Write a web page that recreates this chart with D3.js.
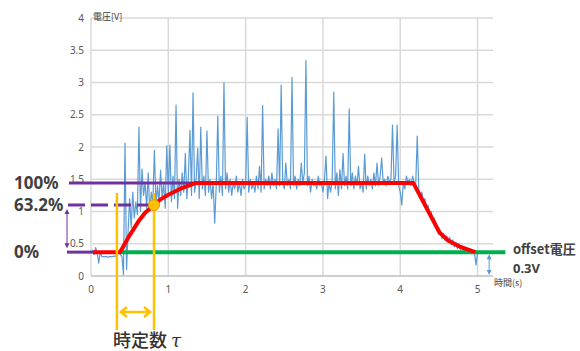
<!DOCTYPE html>
<html>
<head>
<meta charset="utf-8">
<script src="https://cdn.jsdelivr.net/npm/d3@7"></script>
<style>
  body { margin: 0; background: #fff; }
  svg { display: block; }
</style>
</head>
<body>
<svg id="chart" width="580" height="351"></svg>
<script>
// measured voltage, one sample every 0.02 s from t = 0
const sampleStep = 0.02;
const voltage = [
  0.36, 0.40, 0.33, 0.44, 0.36,  0.20, 0.38, 0.30, 0.30, 0.30,
  0.30, 0.29, 0.30, 0.30, 0.30,  0.31, 0.30, 0.38, 0.36, 0.33,
  0.30, 0.02, 2.06, 0.10, 0.70,  1.20, 0.75, 1.30, 0.90, 1.15,
  0.95, 2.31, 1.00, 1.66, 1.25,  1.45, 1.05, 1.60, 1.00, 1.30,
  1.15, 1.95, 1.10, 1.40, 1.15,  1.64, 1.20, 1.45, 1.05, 2.02,
  1.30, 2.03, 1.15, 1.55, 1.20,  2.65, 1.05, 1.50, 1.25, 1.60,
  1.30, 1.90, 1.20, 1.55, 2.26,  1.25, 2.84, 1.30, 1.50, 1.98,
  1.20, 2.31, 1.35, 1.55, 1.25,  2.25, 1.30, 1.50, 1.20, 1.45,
  0.82, 1.40, 2.48, 1.30, 1.55,  1.25, 3.00, 1.35, 1.60, 1.30,
  1.50, 1.25, 1.45, 1.35, 1.55,  1.30, 1.45, 1.25, 1.50, 1.35,
  1.40, 2.46, 1.30, 1.50, 1.35,  1.45, 1.30, 1.55, 1.35, 1.70,
  1.30, 2.64, 1.35, 1.50, 1.40,  1.55, 1.35, 1.60, 1.40, 1.50,
  1.35, 2.28, 1.40, 2.96, 1.45,  1.35, 1.75, 1.40, 1.50, 1.35,
  3.08, 1.40, 1.55, 1.35, 1.50,  1.40, 1.75, 1.45, 1.60, 3.34,
  1.40, 1.55, 1.30, 1.50, 1.40,  1.45, 1.35, 1.55, 1.40, 1.45,
  1.30, 1.50, 1.86, 1.20, 1.45,  1.30, 1.50, 2.85, 1.35, 1.60,
  1.25, 1.65, 1.35, 1.90, 1.40,  1.55, 1.35, 2.59, 1.40, 1.60,
  1.35, 1.55, 1.40, 1.70, 1.35,  1.45, 1.30, 1.89, 1.35, 1.55,
  1.40, 1.50, 1.35, 1.60, 1.40,  1.75, 1.40, 1.55, 1.83, 1.45,
  1.50, 1.40, 1.55, 1.45, 1.50,  2.34, 1.45, 1.55, 2.34, 1.40,
  1.30, 1.10, 1.45, 1.35, 1.55,  1.45, 1.50, 1.40, 1.55, 1.45,
  1.40, 2.17, 1.35, 1.25, 1.30,  1.15, 1.20, 1.05, 1.10, 0.95,
  1.00, 0.85, 0.90, 0.78, 0.72,  0.65, 0.70, 0.58, 0.66, 0.55,
  0.62, 0.52, 0.60, 0.48, 0.56,  0.45, 0.52, 0.42, 0.50, 0.40,
  0.46, 0.38, 0.44, 0.37, 0.40,  0.36, 0.38, 0.35, 0.37, 0.17,
  0.36
];

// hand-drawn fit (red) through the response: [time, volt]
const fitPoints = [
  [0.03, 0.37], [0.375, 0.37], [0.50, 0.63], [0.61, 0.84], [0.70, 0.98],
  [0.815, 1.10], [0.89, 1.18], [1.00, 1.26], [1.15, 1.35], [1.35, 1.44],
  [4.17, 1.44], [4.51, 0.67], [4.62, 0.55], [4.78, 0.45], [4.97, 0.37]
];

const yTicks = [0, 0.5, 1, 1.5, 2, 2.5, 3, 3.5, 4];
const xTicks = [0, 1, 2, 3, 4, 5];

const offsetLevel = 0.37;   // 0%
const tauLevel = 1.10;      // 63.2%
const fullLevel = 1.44;     // 100%
const tauStart = 0.335;
const tauEnd = 0.815;
const offsetEnd = 5.36;

const levelLabels = [
  { text: '100%', value: fullLevel },
  { text: '63.2%', value: tauLevel },
  { text: '0%', value: offsetLevel }
];

const svg = d3.select('#chart');

const x = d3.scaleLinear().domain([0, 5.2]).range([91, 493]);
const y = d3.scaleLinear().domain([0, 4]).range([276, 18]);

const grid = svg.append('g').attr('stroke', '#d9d9d9').attr('stroke-width', 1.5);
grid.selectAll('line.h')
    .data(yTicks.filter(d => d > 0))
    .join('line')
    .attr('class', 'h')
    .attr('x1', x(0)).attr('x2', x(5.2))
    .attr('y1', d => y(d)).attr('y2', d => y(d));
grid.selectAll('line.v')
    .data(xTicks)
    .join('line')
    .attr('class', 'v')
    .attr('x1', d => x(d)).attr('x2', d => x(d))
    .attr('y1', y(0)).attr('y2', y(4));
svg.append('line')
    .attr('x1', x(0)).attr('x2', x(5.2))
    .attr('y1', y(0)).attr('y2', y(0))
    .attr('stroke', '#bfbfbf').attr('stroke-width', 1.5);

const tickFont = '"Noto Sans", "Liberation Sans", sans-serif';
svg.append('g').selectAll('text')
    .data(yTicks)
    .join('text')
    .attr('x', 84)
    .attr('y', d => y(d) + 3.5)
    .attr('text-anchor', 'end')
    .attr('font-family', tickFont)
    .attr('font-size', 10)
    .attr('fill', '#595959')
    .text(d => d);
svg.append('g').selectAll('text')
    .data(xTicks)
    .join('text')
    .attr('x', d => x(d))
    .attr('y', 293)
    .attr('text-anchor', 'middle')
    .attr('font-family', tickFont)
    .attr('font-size', 10)
    .attr('fill', '#595959')
    .text(d => d);

const cjk = '"Noto Sans CJK JP", "Noto Sans", sans-serif';
svg.append('text')
    .attr('x', 93).attr('y', 20)
    .attr('font-family', cjk).attr('font-size', 9).attr('fill', '#404040')
    .text('電圧[V]');
svg.append('text')
    .attr('x', 494).attr('y', 286)
    .attr('font-family', cjk).attr('font-size', 9).attr('fill', '#404040')
    .text('時間(s)');

// signal
const signalLine = d3.line()
    .x((d, i) => x(i * sampleStep))
    .y(d => y(d));
svg.append('path')
    .datum(voltage)
    .attr('d', signalLine)
    .attr('fill', 'none')
    .attr('stroke', '#5b9bd5')
    .attr('stroke-width', 1.2)
    .attr('stroke-linejoin', 'round');

// offset line
svg.append('line')
    .attr('x1', x(0.375)).attr('x2', x(offsetEnd))
    .attr('y1', y(offsetLevel)).attr('y2', y(offsetLevel))
    .attr('stroke', '#00b050').attr('stroke-width', 4);

// purple level guides
const purple = '#7030a0';
svg.append('line')
    .attr('x1', 69).attr('x2', x(1.35))
    .attr('y1', y(fullLevel)).attr('y2', y(fullLevel))
    .attr('stroke', purple).attr('stroke-width', 3);
svg.append('line')
    .attr('x1', 68).attr('x2', x(tauEnd) - 4)
    .attr('y1', y(tauLevel)).attr('y2', y(tauLevel))
    .attr('stroke', purple).attr('stroke-width', 3)
    .attr('stroke-dasharray', '17,6');
svg.append('line')
    .attr('x1', 67).attr('x2', x(0.06))
    .attr('y1', y(offsetLevel)).attr('y2', y(offsetLevel))
    .attr('stroke', purple).attr('stroke-width', 3);

function doubleArrow(xp, y1, y2, color) {
    svg.append('line')
        .attr('x1', xp).attr('x2', xp)
        .attr('y1', y1 + 3).attr('y2', y2 - 3)
        .attr('stroke', color).attr('stroke-width', 1);
    svg.append('path')
        .attr('d', `M${xp},${y1} l-2.5,5 h5 Z M${xp},${y2} l-2.5,-5 h5 Z`)
        .attr('fill', color);
}
doubleArrow(67, y(tauLevel) + 4, y(offsetLevel) - 4, purple);
doubleArrow(x(5.15), y(offsetLevel) + 2, y(0) - 1, '#5b9bd5');

// red fit
svg.append('path')
    .datum(fitPoints)
    .attr('d', d3.line().x(d => x(d[0])).y(d => y(d[1])))
    .attr('fill', 'none')
    .attr('stroke', '#ff0000')
    .attr('stroke-width', 4)
    .attr('stroke-linejoin', 'round');

// time constant markers
const orange = '#ffc000';
svg.append('g').selectAll('line')
    .data([tauStart, tauEnd])
    .join('line')
    .attr('x1', d => x(d)).attr('x2', d => x(d))
    .attr('y1', 193).attr('y2', 330)
    .attr('stroke', orange).attr('stroke-width', 2.5);
const ay = 312;
const ax1 = x(tauStart) + 4;
const ax2 = x(tauEnd) - 4;
svg.append('path')
    .attr('d', `M${ax1},${ay} H${ax2} M${ax1 + 6},${ay - 5} L${ax1},${ay} L${ax1 + 6},${ay + 5} M${ax2 - 6},${ay - 5} L${ax2},${ay} L${ax2 - 6},${ay + 5}`)
    .attr('fill', 'none')
    .attr('stroke', orange).attr('stroke-width', 2.5);
svg.append('circle')
    .attr('cx', x(tauEnd)).attr('cy', y(tauLevel)).attr('r', 5.5)
    .attr('fill', orange).attr('stroke', '#e0a000').attr('stroke-width', 1);

// labels
svg.append('g').selectAll('text')
    .data(levelLabels)
    .join('text')
    .attr('x', 14)
    .attr('y', d => y(d.value) + 6)
    .attr('font-family', '"Noto Sans", sans-serif')
    .attr('font-size', 17)
    .attr('font-weight', 'bold')
    .attr('fill', '#404040')
    .text(d => d.text);

svg.append('text')
    .attr('x', 513).attr('y', 254)
    .attr('font-family', cjk).attr('font-size', 13).attr('font-weight', 'bold')
    .attr('fill', '#404040')
    .text('offset電圧');
svg.append('text')
    .attr('x', 513).attr('y', 273)
    .attr('font-family', '"Noto Sans", sans-serif').attr('font-size', 13).attr('font-weight', 'bold')
    .attr('fill', '#404040')
    .text('0.3V');

const tauLabel = svg.append('text')
    .attr('x', 113).attr('y', 347)
    .attr('font-family', cjk).attr('font-size', 18).attr('font-weight', 500)
    .attr('fill', '#333');
tauLabel.append('tspan').text('時定数 ');
tauLabel.append('tspan')
    .attr('font-family', '"DejaVu Serif", "Liberation Serif", serif')
    .attr('font-style', 'italic')
    .text('τ');
</script>
</body>
</html>
